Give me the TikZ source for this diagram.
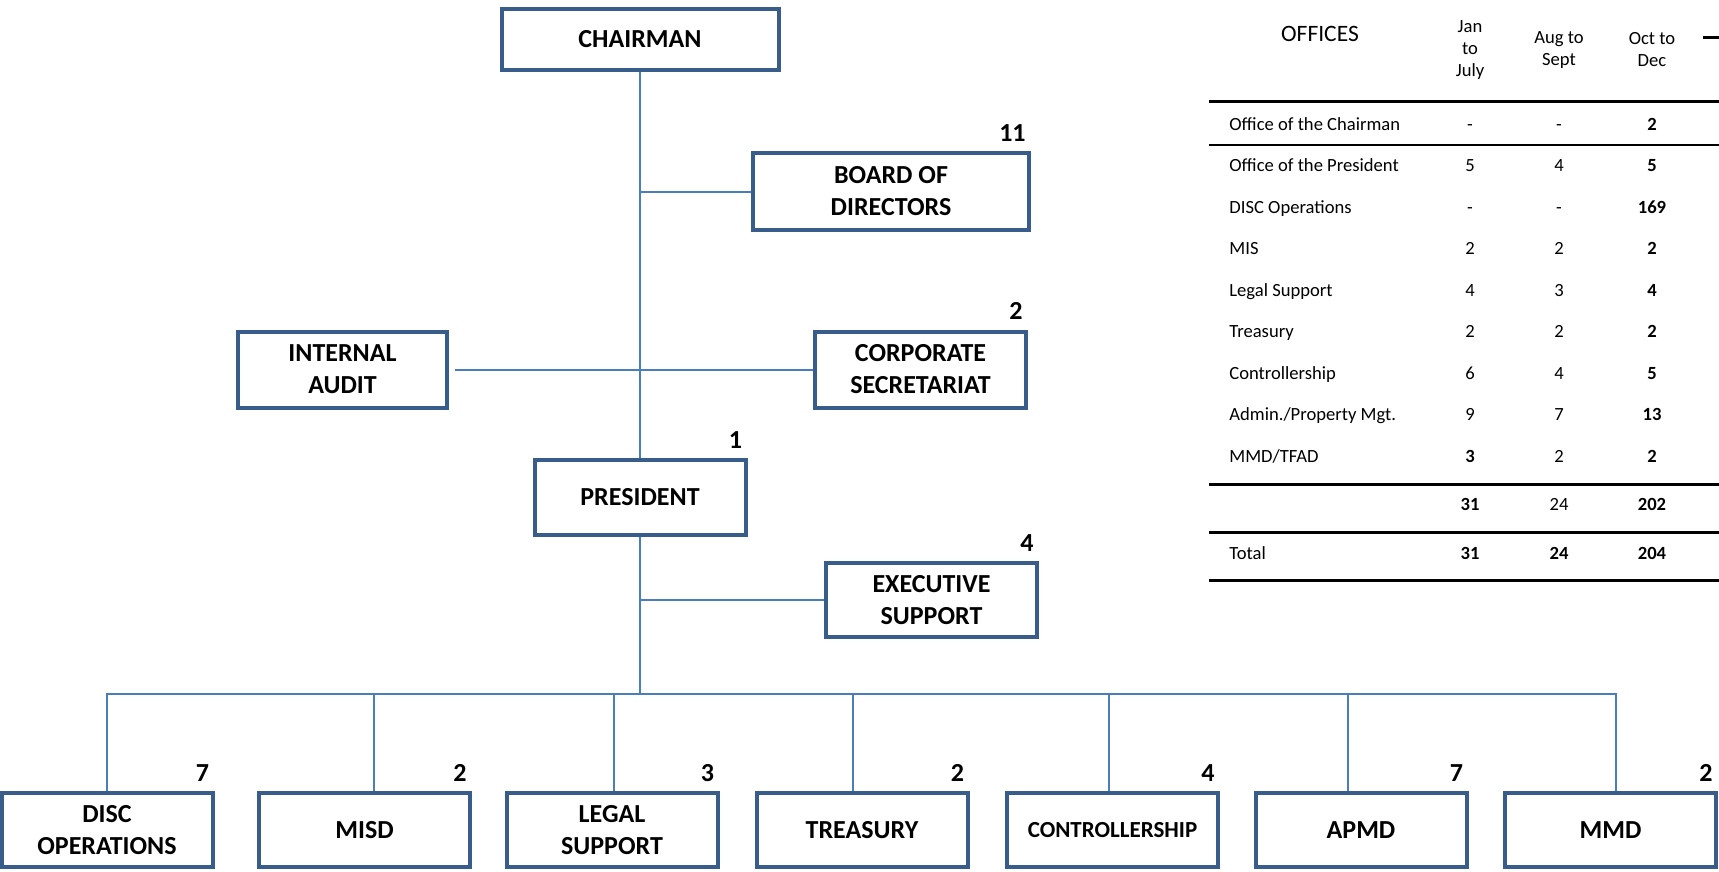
\documentclass[tikz,border=0pt]{standalone}
\usepackage{fontspec}
\setmainfont{Carlito}
\definecolor{boxblue}{RGB}{56,93,138}
\definecolor{linkblue}{RGB}{74,126,187}
\tikzset{
  obox/.style={draw=boxblue, line width=2pt, fill=white, align=center, inner sep=2pt,
    minimum width=105.5pt, minimum height=38pt, font=\fontsize{13}{16}\selectfont\bfseries},
  cnt/.style={anchor=base east, inner sep=0pt, font=\fontsize{13}{16}\selectfont\bfseries},
  link/.style={draw=linkblue, line width=1pt},
  cell/.style={inner sep=0pt, text height=1.4ex, text depth=.3ex, font=\fontsize{9.3}{11}\selectfont},
  bcell/.style={cell, font=\fontsize{9.3}{11}\selectfont\bfseries},
  hcell/.style={inner sep=0pt, align=center, font=\fontsize{9.3}{11}\selectfont},
  rule/.style={line width=1.5pt},
}
\newcommand\cntat[2]{\node[cnt] (#1c) at ([xshift=-2.5pt,yshift=5pt]#1.north east) {#2};}

\begin{document}
\begin{tikzpicture}[x=0.5pt,y=-0.5pt]
\useasboundingbox (0,0) rectangle (1719,872);
% upper part of the chart
\node[obox, minimum width=138.5pt, minimum height=30.5pt] (chair) at (640,39.5) {CHAIRMAN};
\node[obox, minimum width=138pt] (board) at (891,191.5) {BOARD OF\\DIRECTORS};
\node[obox, minimum width=104.5pt] (audit) at (342.5,369.5) {INTERNAL\\AUDIT};
\node[obox] (corp) at (920.5,369.5) {CORPORATE\\SECRETARIAT};
\node[obox, minimum height=37.5pt] (pres) at (640,497.5) {PRESIDENT};
\node[obox, minimum height=37pt] (exec) at (931.5,600) {EXECUTIVE\\SUPPORT};
\coordinate (bus) at (640,694);
% departments
\foreach \n/\x/\t in {disc/107/{DISC\\OPERATIONS}, misd/364.5/MISD, legal/612/{LEGAL\\SUPPORT},
    treas/862/TREASURY, ctrl/1112.5/{\fontsize{11.5}{14}\selectfont CONTROLLERSHIP},
    apmd/1361/APMD, mmd/1610.5/MMD}
  \node[obox, minimum height=37pt] (\n) at (\x,830) {\t};
% lines
\draw[link] (chair.south) -- (pres.north);
\draw[link] (board.west) -- (board.west -| chair.south);
\draw[link, shorten <=3pt] (audit.east) -- (corp.west);
\draw[link] (pres.south) -- (bus);
\draw[link] (exec.west) -- (exec.west -| pres.south);
\draw[link] (disc.north) |- ([xshift=2.75pt]mmd.north |- bus) -- ([xshift=2.75pt]mmd.north);
\foreach \n/\dx in {misd/4.75, legal/1, treas/-4.5, ctrl/-1.75, apmd/-6.5}
  \draw[link] ([xshift=\dx pt]\n.north) -- ([xshift=\dx pt]\n.north |- bus);
% head counts
\cntat{board}{11}
\cntat{corp}{2}
\cntat{pres}{1}
\cntat{exec}{4}
\cntat{disc}{7}
\cntat{misd}{2}
\cntat{legal}{3}
\cntat{treas}{2}
\cntat{ctrl}{4}
\cntat{apmd}{7}
\cntat{mmd}{2}
% table
\node[inner sep=0pt, font=\fontsize{11.75}{14}\selectfont] (offices) at (1320,34) {OFFICES};
\node[hcell] (hjan) at (1470,50) {Jan\\to\\July};
\node[hcell] (haug) at (1559,50) {Aug to\\Sept};
\node[hcell] (hoct) at (1652,50) {Oct to\\Dec};
\draw[rule] (1703,38) -- (1719,38);
\draw[rule] (1209,102) -- (1719,102);
\draw[line width=1.25pt] (1209,145) -- (1719,145);
\foreach \lab/\a/\b/\c [count=\i from 0] in {Office of the Chairman/-/-/2,
    Office of the President/5/4/5, DISC Operations/-/-/169, MIS/2/2/2,
    Legal Support/4/3/4, Treasury/2/2/2, Controllership/6/4/5,
    {Admin./Property Mgt.}/9/7/13, {MMD/TFAD}/\textbf{3}/2/2}
{
  \node[cell, anchor=west] (lab\i) at (1229,125+41.5*\i) {\lab};
  \node[cell] (jan\i) at (1470,125+41.5*\i) {\a};
  \node[cell] (aug\i) at (1559,125+41.5*\i) {\b};
  \node[bcell] (oct\i) at (1652,125+41.5*\i) {\c};
}
\draw[rule] (1209,484) -- (1719,484);
\node[bcell] (sjan) at (1470,505) {31};
\node[cell] (saug) at (1559,505) {24};
\node[bcell] (soct) at (1652,505) {202};
\draw[rule] (1209,532) -- (1719,532);
\node[cell, anchor=west] (total) at (1229,554) {Total};
\node[bcell] (tjan) at (1470,554) {31};
\node[bcell] (taug) at (1559,554) {24};
\node[bcell] (toct) at (1652,554) {204};
\draw[rule] (1209,580) -- (1719,580);
\end{tikzpicture}
\end{document}
